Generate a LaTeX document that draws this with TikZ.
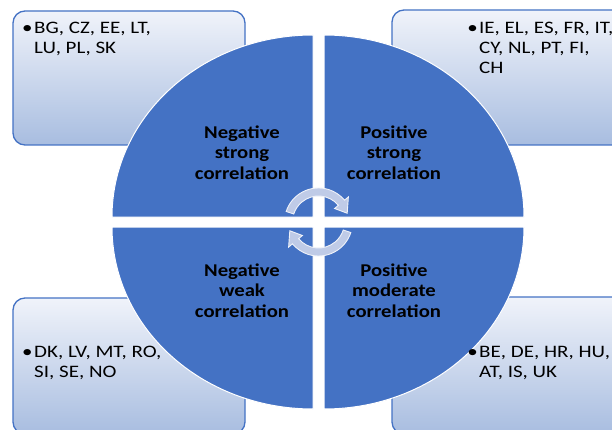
\documentclass[tikz,border=0pt]{standalone}
\usepackage{fontspec}
\setmainfont{Carlito}
\newfontfamily\wideface[FakeStretch=1.15]{Carlito}
\newfontfamily\listface[FakeStretch=1.2]{Carlito}
\definecolor{quadblue}{HTML}{4472C4}
\definecolor{boxtop}{HTML}{F0F3FA}
\definecolor{boxbottom}{HTML}{A8BDE0}
\definecolor{arrowfill}{HTML}{BFCBE7}
\begin{document}
\begin{tikzpicture}[x=1pt, y=-1pt,
    listbox/.style={draw=quadblue, line width=1.3pt, rounded corners=12pt, top color=boxtop, bottom color=boxbottom},
    quarter/.style={fill=quadblue, draw=white, line width=1pt},
    cyclearrow/.style={fill=arrowfill, draw=white!75!arrowfill, line width=0.9pt},
    listtext/.style={anchor=north west, inner sep=0pt, align=left, font=\listface\fontsize{17.5}{20}\selectfont},
    quadtext/.style={align=center, inner sep=0pt, font=\wideface\bfseries\fontsize{18}{20.5}\selectfont}]
    \useasboundingbox (0,0) rectangle (612,430);
    \clip (0,0) rectangle (612,430);

    % Boxes behind the circle
    \path[listbox] (13,11) rectangle (245,145);
    \path[listbox] (392,10) rectangle (625,145);
    \path[listbox] (13,298) rectangle (245,434);
    \path[listbox] (392,297) rectangle (625,434);

    % Quarters of the circle
    \path[quarter] (313,217) -- (112,217) arc[start angle=180, end angle=270, x radius=201, y radius=182] -- cycle;
    \path[quarter] (324,217) -- (524,217) arc[start angle=0, end angle=-90, x radius=200, y radius=182] -- cycle;
    \path[quarter] (313,227) -- (112,227) arc[start angle=180, end angle=90, x radius=201, y radius=182] -- cycle;
    \path[quarter] (324,227) -- (524,227) arc[start angle=0, end angle=90, x radius=200, y radius=182] -- cycle;

    % Arrows in the middle
    \begin{scope}[shift={(318.5,222)}, y=1pt]
        \path[cyclearrow] (162:34) arc[start angle=162, end angle=40, radius=34] -- (40:39) -- (17:30)
            -- (40:21) -- (40:26) arc[start angle=40, end angle=162, radius=26] -- cycle;
        \path[cyclearrow] (342:34) arc[start angle=342, end angle=220, radius=34] -- (220:39) -- (197:30)
            -- (220:21) -- (220:26) arc[start angle=220, end angle=342, radius=26] -- cycle;
    \end{scope}

    % Texts of the quarters
    \node[quadtext] (negstrong) at (242,152.5) {Negative\\strong\\correlation};
    \node[quadtext] (posstrong) at (394,152.5) {Positive\\strong\\correlation};
    \node[quadtext] (negweak) at (242,290.5) {Negative\\weak\\correlation};
    \node[quadtext] (posmoderate) at (394,290.5) {Positive\\moderate\\correlation};

    % Country lists
    \node[listtext] (listtl) at (34,22) {\llap{\textbullet\hspace{1.5pt}}BG, CZ, EE, LT,\\LU, PL, SK};
    \node[listtext] (listtr) at (479,22) {\llap{\textbullet\hspace{1.5pt}}IE, EL, ES, FR, IT,\\CY, NL, PT, FI,\\CH};
    \node[listtext] (listbl) at (34,346) {\llap{\textbullet\hspace{1.5pt}}DK, LV, MT, RO,\\SI, SE, NO};
    \node[listtext] (listbr) at (479,346) {\llap{\textbullet\hspace{1.5pt}}BE, DE, HR, HU,\\AT, IS, UK};
\end{tikzpicture}
\end{document}
